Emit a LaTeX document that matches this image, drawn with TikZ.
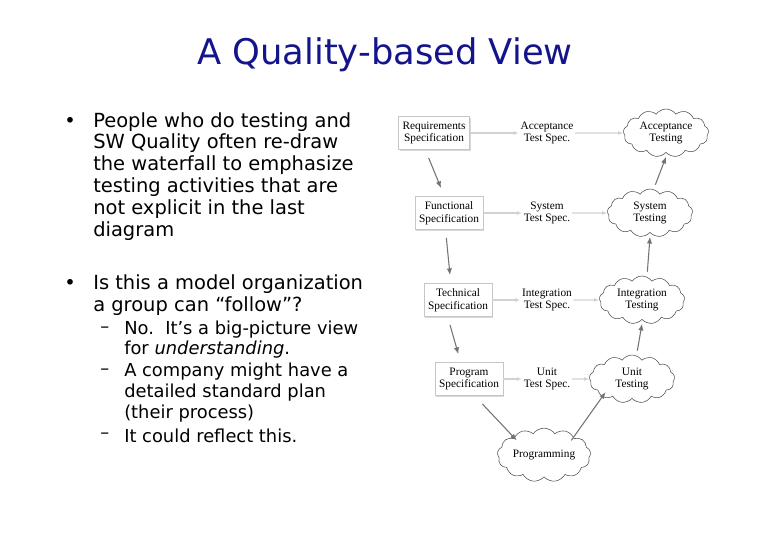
\documentclass[tikz,border=0pt]{standalone}
\usepackage{fontspec}
\setmainfont{DejaVu Sans}
\newfontfamily\diagfont{Liberation Serif}
\usetikzlibrary{shapes.symbols,arrows.meta,shadows}
\definecolor{titleblue}{RGB}{20,20,140}
\tikzset{
  spec/.style={draw=gray!45,fill=white,drop shadow={shadow xshift=1pt,shadow yshift=-1pt,opacity=0.3},font=\diagfont\fontsize{8.5}{9.5}\selectfont,align=center,minimum height=25pt,inner sep=3pt},
  cloudn/.style={cloud,cloud puffs=13,cloud puff arc=110,draw=black!70,fill=white,aspect=2,font=\diagfont\fontsize{8.5}{9.5}\selectfont,align=center,inner sep=0pt,minimum width=64pt,minimum height=36pt},
  tspec/.style={font=\diagfont\fontsize{8.5}{9.5}\selectfont,align=center,inner sep=1pt},
  darr/.style={-{Latex[length=5pt,width=4pt]},draw=black!55,thick},
  larr/.style={-{Latex[length=4pt,width=3pt]},draw=gray!35,thick},
  bl/.style={anchor=west,font=\fontsize{14.6}{16}\selectfont,inner sep=0pt},
  sbl/.style={anchor=west,font=\fontsize{13.4}{15}\selectfont,inner sep=0pt},
}
\begin{document}
\begin{tikzpicture}[x=0.75pt,y=-0.75pt]
\useasboundingbox (0,0) rectangle (780,540);
\node[font=\fontsize{26.5}{30}\selectfont,text=titleblue] (title) at (385,55) {A Quality-based View};
% bullets
\node[bl] (b1) at (64,122) {•};
\node[bl] (l1) at (93,122) {People who do testing and};
\node[bl] (l2) at (93,143) {SW Quality often re-draw};
\node[bl] (l3) at (93,165) {the waterfall to emphasize};
\node[bl] (l4) at (93,187) {testing activities that are};
\node[bl] (l5) at (93,209) {not explicit in the last};
\node[bl] (l6) at (93,231) {diagram};
\node[bl] (b2) at (64,284) {•};
\node[bl] (m1) at (93,284) {Is this a model organization};
\node[bl] (m2) at (93,306) {a group can “follow”?};
\node[sbl] (d1) at (100,330) {\textendash};
\node[sbl] (s1) at (124,330) {No.\ \ It’s a big-picture view};
\node[sbl] (s2) at (124,350) {for \textit{understanding}.};
\node[sbl] (d2) at (100,372) {\textendash};
\node[sbl] (s3) at (124,372) {A company might have a};
\node[sbl] (s4) at (124,393) {detailed standard plan};
\node[sbl] (s5) at (124,414) {(their process)};
\node[sbl] (d3) at (100,436) {\textendash};
\node[sbl] (s6) at (124,436) {It could reflect this.};
% diagram
\node[spec] (rs) at (434,133) {Requirements\\Specification};
\node[spec] (fs) at (449,213) {Functional\\Specification};
\node[spec] (ts) at (458,300) {Technical\\Specification};
\node[spec] (ps) at (469,379) {Program\\Specification};
\node[tspec] (ats) at (547,133) {Acceptance\\Test Spec.};
\node[tspec] (sts) at (547,213) {System\\Test Spec.};
\node[tspec] (its) at (547,300) {Integration\\Test Spec.};
\node[tspec] (uts) at (547,379) {Unit\\Test Spec.};
\node[cloudn] (at) at (666,133) {Acceptance\\Testing};
\node[cloudn] (st) at (650,213) {System\\Testing};
\node[cloudn] (it) at (642,300) {Integration\\Testing};
\node[cloudn] (ut) at (632,379) {Unit\\Testing};
\node[cloudn,minimum width=70pt,minimum height=38pt] (pg) at (544,455) {Programming};
\draw[larr] (rs) -- (ats); \draw[larr] (ats) -- (at);
\draw[larr] (fs) -- (sts); \draw[larr] (sts) -- (st);
\draw[larr] (ts) -- (its); \draw[larr] (its) -- (it);
\draw[larr] (ps) -- (uts); \draw[larr] (uts) -- (ut);
\draw[darr] ([xshift=-4pt,yshift=-6pt]rs.south) -- ([xshift=-6pt,yshift=6pt]fs.north);
\draw[darr] ([xshift=-2pt,yshift=-6pt]fs.south) -- ([xshift=-6pt,yshift=6pt]ts.north);
\draw[darr] ([xshift=-6pt,yshift=-6pt]ts.south) -- ([xshift=-8pt,yshift=6pt]ps.north);
\draw[darr] ([xshift=10pt,yshift=-6pt]ps.south) -- ([xshift=2pt,yshift=-2pt]pg.north west);
\draw[darr] ([xshift=-2pt,yshift=-2pt]pg.north east) -- ([xshift=3pt,yshift=3pt]ut.south west);
\draw[darr] ([xshift=4pt,yshift=3pt]ut.north) -- ([yshift=-3pt]it.south);
\draw[darr] ([xshift=4pt,yshift=3pt]it.north) -- ([yshift=-3pt]st.south);
\draw[darr] ([xshift=4pt,yshift=3pt]st.north) -- ([yshift=-3pt]at.south);
\end{tikzpicture}
\end{document}
